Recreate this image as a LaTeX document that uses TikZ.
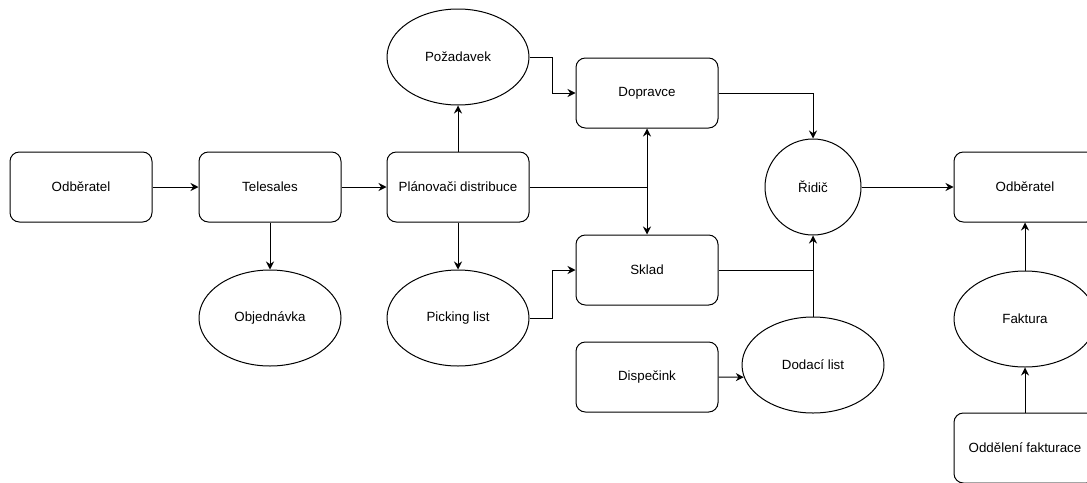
\documentclass[tikz,border=0pt]{standalone}
\usepackage{fontspec}
\setmainfont{Liberation Sans}
\usetikzlibrary{arrows.meta, positioning, shapes.geometric}

\begin{document}
\begin{tikzpicture}[x=0.75pt, y=-0.75pt, font=\fontsize{10}{12}\selectfont,
  box/.style={draw, line width=0.75pt, rounded corners=7pt, minimum width=106.5pt, minimum height=52.5pt, inner sep=0pt},
  oval/.style={draw, line width=0.75pt, ellipse, minimum width=106.5pt, minimum height=72pt, inner sep=0pt},
  arr/.style={line width=0.75pt, -{Stealth[length=6pt,width=6pt]}}]
  \useasboundingbox (0,0) rectangle (1087,482);
  \node[box] (odbA) at (81,187) {Odběratel};
  \node[box] (tele) at (270,187) {Telesales};
  \node[oval] (objed) at (270,318) {Objednávka};
  \node[box] (plan) at (458,187) {Plánovači distribuce};
  \node[oval] (pozad) at (458,57) {Požadavek};
  \node[oval] (pick) at (458,318) {Picking list};
  \node[box] (dopr) at (647,93) {Dopravce};
  \node[box] (sklad) at (647,270) {Sklad};
  \node[box] (disp) at (647,377) {Dispečink};
  \node[draw, line width=0.75pt, circle, minimum size=72pt, inner sep=0pt] (ridic) at (813,187) {Řidič};
  \node[oval] (dodaci) at (813,365) {Dodací list};
  \node[box] (odbB) at (1025,187) {Odběratel};
  \node[oval] (faktura) at (1025,319) {Faktura};
  \node[box] (oddel) at (1025,448) {Oddělení fakturace};

  \draw[arr] (odbA) -- (tele);
  \draw[arr] (tele) -- (plan);
  \draw[arr] (tele) -- (objed);
  \draw[arr] (plan) -- (pozad);
  \draw[arr] (plan) -- (pick);
  \draw[arr] (pozad.east) -- ++(23,0) |- (dopr.west);
  \draw[arr] (pick.east) -- ++(23,0) |- (sklad.west);
  \draw[arr, {Stealth[length=6pt,width=6pt]}-{Stealth[length=6pt,width=6pt]}] (dopr) -- (sklad);
  \draw[line width=0.75pt] (plan.east) -- (plan.east -| dopr.south);
  \draw[arr] (dopr.east) -| (ridic.north);
  \draw[line width=0.75pt] (sklad.east) -- (sklad.east -| ridic.south);
  \draw[arr] (dodaci.north) -- (ridic.south);
  \draw[arr] (disp.east) -- (dodaci.190);
  \draw[arr] (ridic) -- (odbB);
  \draw[arr] (faktura) -- (odbB);
  \draw[arr] (oddel) -- (faktura);
\end{tikzpicture}
\end{document}
